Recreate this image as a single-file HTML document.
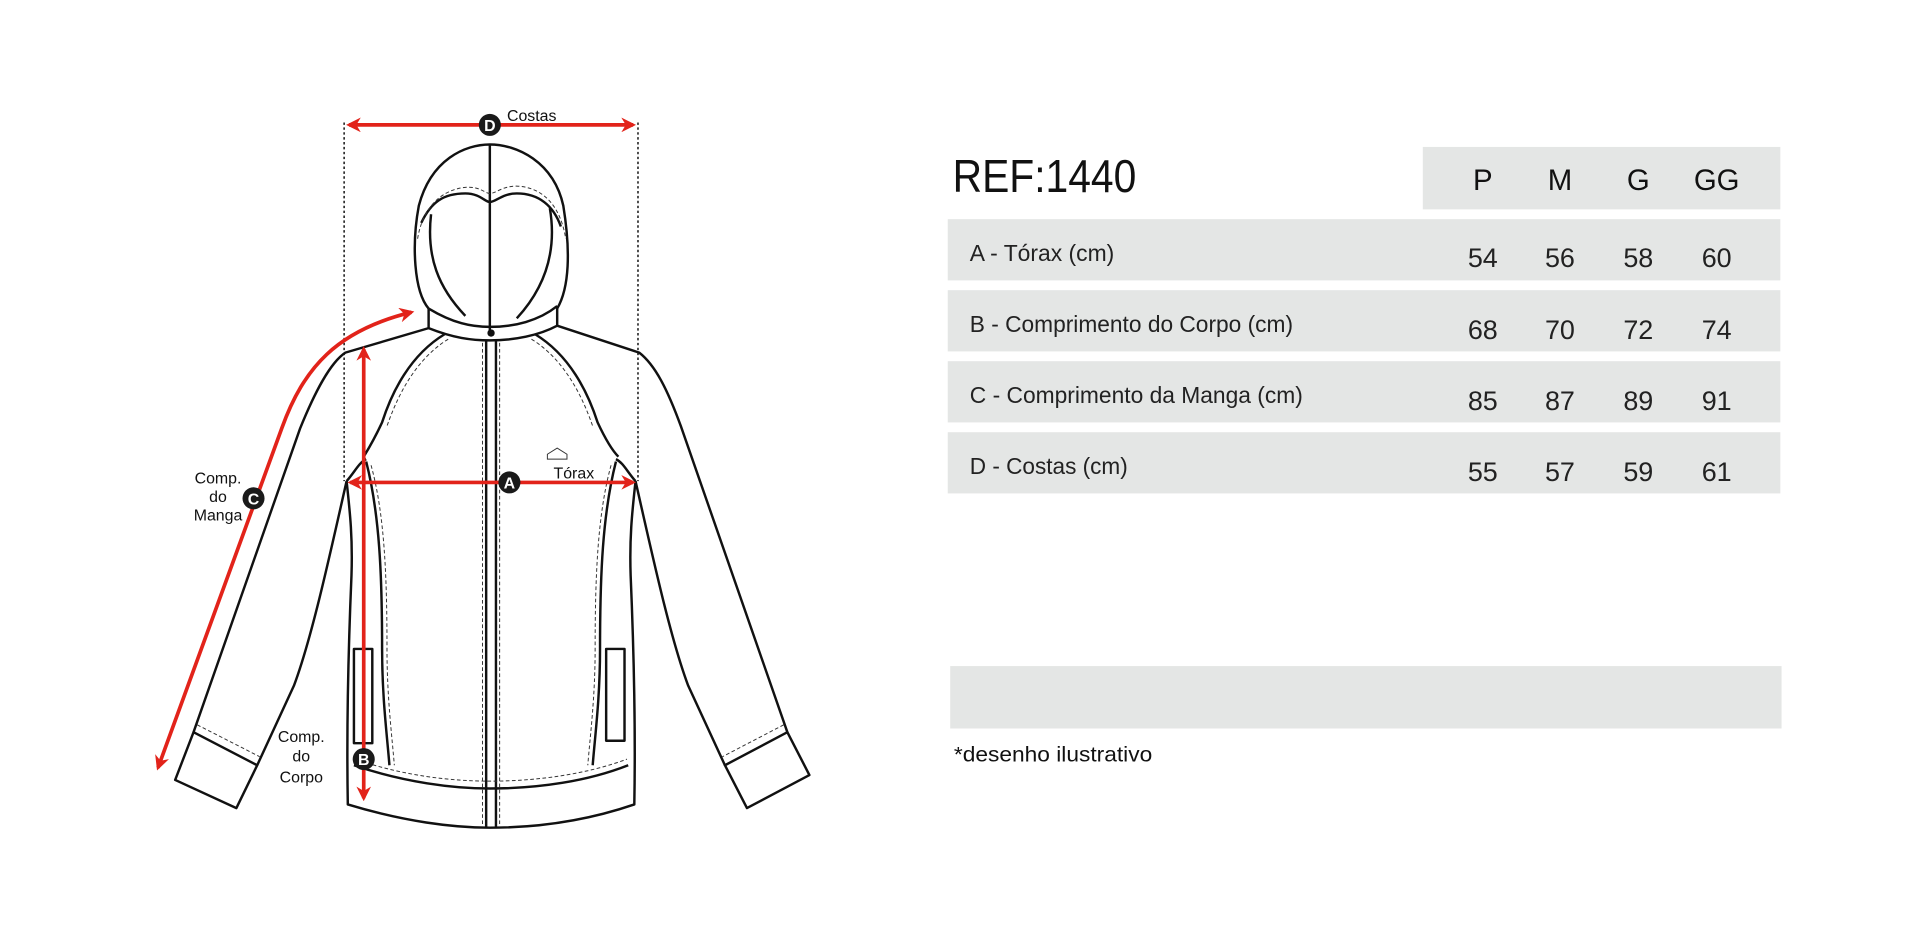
<!DOCTYPE html>
<html><head><meta charset="utf-8"><style>
html,body{margin:0;padding:0;background:#fff;width:1920px;height:944px;overflow:hidden}
svg{display:block}
text{font-family:"Liberation Sans",Arial,sans-serif}
</style></head><body>
<svg width="1920" height="944" viewBox="0 0 1568 771" xmlns="http://www.w3.org/2000/svg">
<defs>
<marker id="ah" viewBox="0 0 10 10" refX="8" refY="5" markerWidth="4" markerHeight="4" orient="auto-start-reverse">
<path d="M0,0 L10,5 L0,10 L3,5 z" fill="#e2231a"/></marker>
</defs>
<rect width="1568" height="771" fill="#fff"/>
<g stroke="#222" stroke-width="1.3" stroke-dasharray="2,2" fill="none">
<line x1="281" y1="100" x2="281" y2="393"/><line x1="521" y1="100" x2="521" y2="393"/>
</g>
<g stroke="#111" stroke-width="2" fill="none" stroke-linejoin="round">
<path d="M350,252 C338,238 336,200 342,168 C352,130 380,118 400,118 C422,118 452,132 460,168 C466,205 465,235 455,252"/>
<path d="M344,182 C352,165 362,158 380,158 C392,158 396,165 400,165 C405,165 410,158 422,158 C440,158 452,168 458,185"/>
<path d="M352,175 C348,210 358,235 380,258"/>
<path d="M449,170 C455,205 445,235 422,260"/>
<line x1="400" y1="118" x2="400" y2="270"/>
<path d="M350,252 L350,268 C370,276 385,278 400,278 C420,278 440,274 455,266 L455,250"/>
<path d="M350,252 C370,264 385,267 400,267 C420,267 440,262 455,250"/>
<path d="M350,268 L282,288 C270,296 258,318 245,350 L158,598"/>
<path d="M455,266 L522,288 C535,298 545,318 556,348 L643,598"/>
<path d="M283,393 C270,450 255,520 240,560 L210,625"/>
<path d="M519,393 C532,450 547,520 562,560 L592,625"/>
<path d="M158,598 L210,625 L193,660 L143,637 Z"/>
<path d="M643,598 L592,625 L610,660 L661,633 Z"/>
<path d="M283,393 C286,420 288,440 287,470 C284,540 283,600 284,657 C330,671 370,676 400,676 C440,676 480,670 518,657 C519,600 518,540 515,470 C514,440 516,420 519,393"/>
<path d="M289,625 C330,639 370,644 400,644 C440,644 480,638 513,625"/>
<path d="M363,273 C335,290 320,320 312,345 C305,360 300,368 297,373"/>
<path d="M437,273 C465,290 480,320 488,345 C495,360 500,368 505,373"/>
<path d="M299,377 C310,420 312,470 312,530 C312,570 316,600 318,625"/>
<path d="M503,377 C492,420 490,470 490,530 C490,570 486,600 484,625"/>
<path d="M283,393 C290,385 293,378 299,375"/><path d="M519,393 C512,385 509,378 503,375"/>
<rect x="289" y="530" width="15" height="77"/>
<rect x="495" y="530" width="15" height="75"/>
<line x1="397" y1="278" x2="397" y2="676"/><line x1="405" y1="278" x2="405" y2="676"/>
</g>
<g stroke="#333" stroke-width="0.8" stroke-dasharray="3,2" fill="none">
<path d="M341,195 C345,170 360,155 380,153 C392,152 396,158 400,158 C405,158 410,152 422,152 C445,153 458,170 462,195"/>
<path d="M366,277 C340,293 325,322 316,348"/><path d="M434,277 C460,293 475,322 484,348"/>
<path d="M303,380 C314,420 316,470 316,530 C316,570 320,600 322,625"/>
<path d="M499,380 C488,420 486,470 486,530 C486,570 482,600 480,625"/>
<path d="M290,620 C330,634 370,638 400,638 C440,638 480,632 512,620"/>
<path d="M161,592 L212,618"/><path d="M640,592 L590,618"/>
<line x1="394" y1="280" x2="394" y2="675"/><line x1="408" y1="280" x2="408" y2="675"/>
</g>
<circle cx="401" cy="272" r="3" fill="#111"/>
<path d="M447,371 L455,366 L463,371 L463,375 L447,375 Z" fill="none" stroke="#333" stroke-width="0.8"/>
<g stroke="#e2231a" stroke-width="3" fill="none">
<line x1="285" y1="102" x2="517" y2="102" marker-start="url(#ah)" marker-end="url(#ah)"/>
<line x1="286" y1="394" x2="517" y2="394" marker-start="url(#ah)" marker-end="url(#ah)"/>
<line x1="297" y1="285" x2="297" y2="652" marker-start="url(#ah)" marker-end="url(#ah)"/>
<path d="M129,627 L230,350 C248,300 275,270 336,255" marker-start="url(#ah)" marker-end="url(#ah)"/>
</g>
<g fill="#1a1a1a">
<circle cx="400" cy="102" r="9"/><circle cx="416" cy="394" r="9"/><circle cx="297" cy="620" r="9"/><circle cx="207" cy="407" r="9"/>
</g>
<g fill="#fff" font-size="13" font-weight="bold" text-anchor="middle">
<text x="400" y="107">D</text><text x="416" y="399">A</text><text x="297" y="625">B</text><text x="207" y="412">C</text>
</g>
<g fill="#111" font-size="13">
<text x="414" y="99">Costas</text>
<text x="452" y="391">Tórax</text>
<g text-anchor="middle">
<text x="178" y="395">Comp.</text><text x="178" y="410">do</text><text x="178" y="425">Manga</text>
<text x="246" y="606">Comp.</text><text x="246" y="622">do</text><text x="246" y="639">Corpo</text>
</g>
</g>
<text x="778" y="157" font-size="38" fill="#111" textLength="150" lengthAdjust="spacingAndGlyphs">REF:1440</text>
<g fill="#e4e6e5">
<rect x="1162" y="120" width="292" height="51"/>
<rect x="774" y="179" width="680" height="50"/>
<rect x="774" y="237" width="680" height="50"/>
<rect x="774" y="295" width="680" height="50"/>
<rect x="774" y="353" width="680" height="50"/>
<rect x="776" y="544" width="679" height="51"/>
</g>
<g fill="#111" font-size="24" text-anchor="middle">
<text x="1211" y="155">P</text><text x="1274" y="155">M</text><text x="1338" y="155">G</text><text x="1402" y="155">GG</text>
</g>
<g fill="#222" font-size="19">
<text x="792" y="213" textLength="118" lengthAdjust="spacingAndGlyphs">A - Tórax (cm)</text>
<text x="792" y="271" textLength="264" lengthAdjust="spacingAndGlyphs">B - Comprimento do Corpo (cm)</text>
<text x="792" y="329" textLength="272" lengthAdjust="spacingAndGlyphs">C - Comprimento da Manga (cm)</text>
<text x="792" y="387" textLength="129" lengthAdjust="spacingAndGlyphs">D - Costas (cm)</text>
</g>
<g fill="#222" font-size="22" text-anchor="middle">
<text x="1211" y="218">54</text><text x="1274" y="218">56</text><text x="1338" y="218">58</text><text x="1402" y="218">60</text>
<text x="1211" y="277">68</text><text x="1274" y="277">70</text><text x="1338" y="277">72</text><text x="1402" y="277">74</text>
<text x="1211" y="335">85</text><text x="1274" y="335">87</text><text x="1338" y="335">89</text><text x="1402" y="335">91</text>
<text x="1211" y="393">55</text><text x="1274" y="393">57</text><text x="1338" y="393">59</text><text x="1402" y="393">61</text>
</g>
<text x="779" y="622" font-size="17" fill="#111" textLength="162" lengthAdjust="spacingAndGlyphs">*desenho ilustrativo</text>
</svg>
</body></html>
